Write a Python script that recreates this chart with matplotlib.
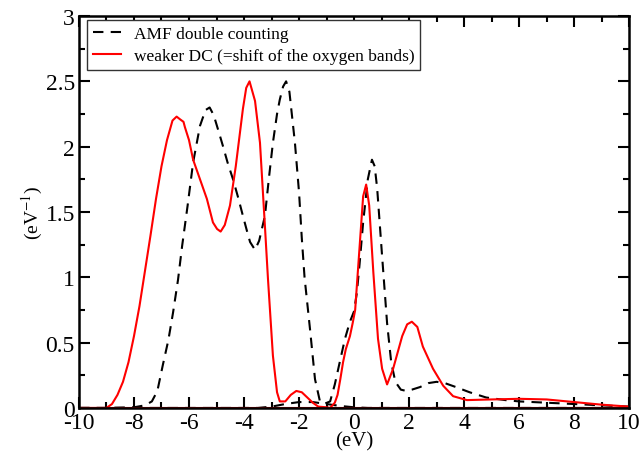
import numpy as np
import matplotlib.pyplot as plt
from matplotlib.ticker import MultipleLocator

# ------------------ DATA ------------------ #
amf_x = [-10.0, -9.0, -8.0, -7.6, -7.35, -7.15, -6.95, -6.75, -6.58, -6.4, -6.25,
         -6.05, -5.85, -5.6, -5.4, -5.25, -5.1, -4.9, -4.76, -4.6, -4.4, -4.2,
         -4.04, -3.9, -3.78, -3.6, -3.45, -3.24, -3.1, -2.95, -2.8, -2.7, -2.58,
         -2.47, -2.35, -2.15, -2.0, -1.9, -1.8, -1.7, -1.6, -1.42, -1.24, -1.1,
         -0.87, -0.7, -0.5, -0.33, -0.15, 0.0, 0.1, 0.2, 0.33, 0.5, 0.65, 0.75,
         0.84, 1.02, 1.2, 1.35, 1.5, 1.7, 1.9, 2.1, 2.4, 2.7, 3.0, 3.3, 3.7, 4.2,
         4.8, 5.5, 6.0, 7.0, 8.0, 9.0, 10.0]
amf_y = [0.0, 0.0, 0.005, 0.02, 0.05, 0.13, 0.33, 0.52, 0.73, 0.98, 1.24,
         1.55, 1.88, 2.16, 2.28, 2.30, 2.24, 2.1, 2.0, 1.88, 1.75, 1.6,
         1.47, 1.36, 1.27, 1.21, 1.28, 1.47, 1.75, 2.03, 2.25, 2.36, 2.46,
         2.50, 2.42, 2.03, 1.65, 1.3, 1.0, 0.8, 0.6, 0.22, 0.05, 0.03,
         0.05, 0.18, 0.37, 0.53, 0.66, 0.74, 0.88, 1.1, 1.42, 1.75, 1.9, 1.85,
         1.68, 1.16, 0.65, 0.35, 0.2, 0.14, 0.13, 0.14, 0.16, 0.19, 0.2, 0.19, 0.16, 0.12,
         0.08, 0.06, 0.05, 0.04, 0.03, 0.02, 0.01]

amf_low_x = [-10.0, -3.5, -3.0, -2.5, -2.0, -1.5, -1.0, -0.5, 0.0, 0.5, 10.0]
amf_low_y = [0.0, 0.0, 0.01, 0.03, 0.045, 0.045, 0.03, 0.015, 0.005, 0.0, 0.0]

dc_x = [-10.0, -9.0, -8.8, -8.6, -8.4, -8.2, -8.0, -7.8, -7.6, -7.4, -7.2, -7.0,
        -6.8, -6.6, -6.45, -6.33, -6.2, -6.15, -6.0, -5.85, -5.6, -5.35, -5.13,
        -4.98, -4.85, -4.7, -4.51, -4.3, -4.04, -3.92, -3.8, -3.6, -3.42, -3.24,
        -3.13, -2.95, -2.8, -2.7, -2.5, -2.3, -2.1, -1.9, -1.7, -1.5, -1.3, -1.0,
        -0.87, -0.7, -0.6, -0.5, -0.4, -0.3, -0.15, -0.05, 0.04, 0.22, 0.33, 0.44,
        0.55, 0.7, 0.87, 1.02, 1.2, 1.42, 1.75, 1.93, 2.1, 2.3, 2.5, 2.87, 3.24,
        3.6, 4.1, 5.0, 6.0, 7.0, 8.0, 9.0, 10.0]
dc_y = [0.0, 0.0, 0.03, 0.1, 0.2, 0.35, 0.55, 0.78, 1.05, 1.32, 1.6, 1.85,
        2.05, 2.2, 2.23, 2.21, 2.19, 2.15, 2.05, 1.9, 1.75, 1.6, 1.42,
        1.37, 1.35, 1.4, 1.55, 1.85, 2.29, 2.45, 2.5, 2.35, 2.03, 1.39,
        0.99, 0.4, 0.12, 0.05, 0.05, 0.1, 0.13, 0.12, 0.08, 0.04, 0.01, 0.005,
        0.0, 0.04, 0.1, 0.22, 0.35, 0.45, 0.55, 0.65, 0.75, 1.29, 1.62, 1.71,
        1.55, 1.04, 0.53, 0.3, 0.18, 0.3, 0.55, 0.64, 0.66, 0.62, 0.47, 0.3, 0.17,
        0.09, 0.06, 0.065, 0.07, 0.065, 0.045, 0.025, 0.01]

dc_low_x = [-10.0, 10.0]
dc_low_y = [0.0, 0.0]

# ------------------ PLOT ------------------ #
plt.rcParams['font.family'] = ['Liberation Serif', 'DejaVu Serif']
plt.rcParams['mathtext.fontset'] = 'stix'

fig = plt.figure(figsize=(6.42, 4.6), dpi=100)
ax = fig.add_axes([0.123, 0.111, 0.857, 0.852])

ax.plot(amf_x, amf_y, color='black', lw=1.5, dashes=(5, 3.5), label='AMF double counting')
ax.plot(amf_low_x, amf_low_y, color='black', lw=1.5, dashes=(5, 3.5))
ax.plot(dc_x, dc_y, color='red', lw=1.5, label='weaker DC (=shift of the oxygen bands)')
ax.plot(dc_low_x, dc_low_y, color='#c00000', lw=1.5)

ax.set_xlim(-10, 10)
ax.set_ylim(0, 3)
ax.xaxis.set_major_locator(MultipleLocator(2))
ax.xaxis.set_minor_locator(MultipleLocator(1))
ax.yaxis.set_major_locator(MultipleLocator(0.5))
ax.yaxis.set_minor_locator(MultipleLocator(0.25))
ax.yaxis.set_major_formatter(plt.FuncFormatter(lambda v, p: f"{v:g}"))
ax.xaxis.set_major_formatter(plt.FuncFormatter(lambda v, p: f"{v:g}".replace('\u2212', '-')))

ax.tick_params(which='both', direction='in', top=True, right=True, width=1.5, labelsize=17, colors='black')
ax.tick_params(which='major', length=8)
ax.tick_params(which='minor', length=4)
ax.tick_params(axis='x', pad=3)
ax.tick_params(axis='y', pad=3)
for sp in ax.spines.values():
    sp.set_linewidth(1.8)

ax.set_xlabel('(eV)', fontsize=15, labelpad=-1)
ax.set_ylabel('(eV$^{-1}$)', fontsize=14, labelpad=0)

leg = ax.legend(loc='upper left', bbox_to_anchor=(0.014, 0.99), fontsize=12.5,
                frameon=True, fancybox=False, edgecolor='#333333', framealpha=1,
                handlelength=1.6, handletextpad=0.75, borderpad=0.35, labelspacing=0.35,
                borderaxespad=0.0)
leg.get_frame().set_linewidth(1.0)

fig.savefig('out.png', dpi=100)
